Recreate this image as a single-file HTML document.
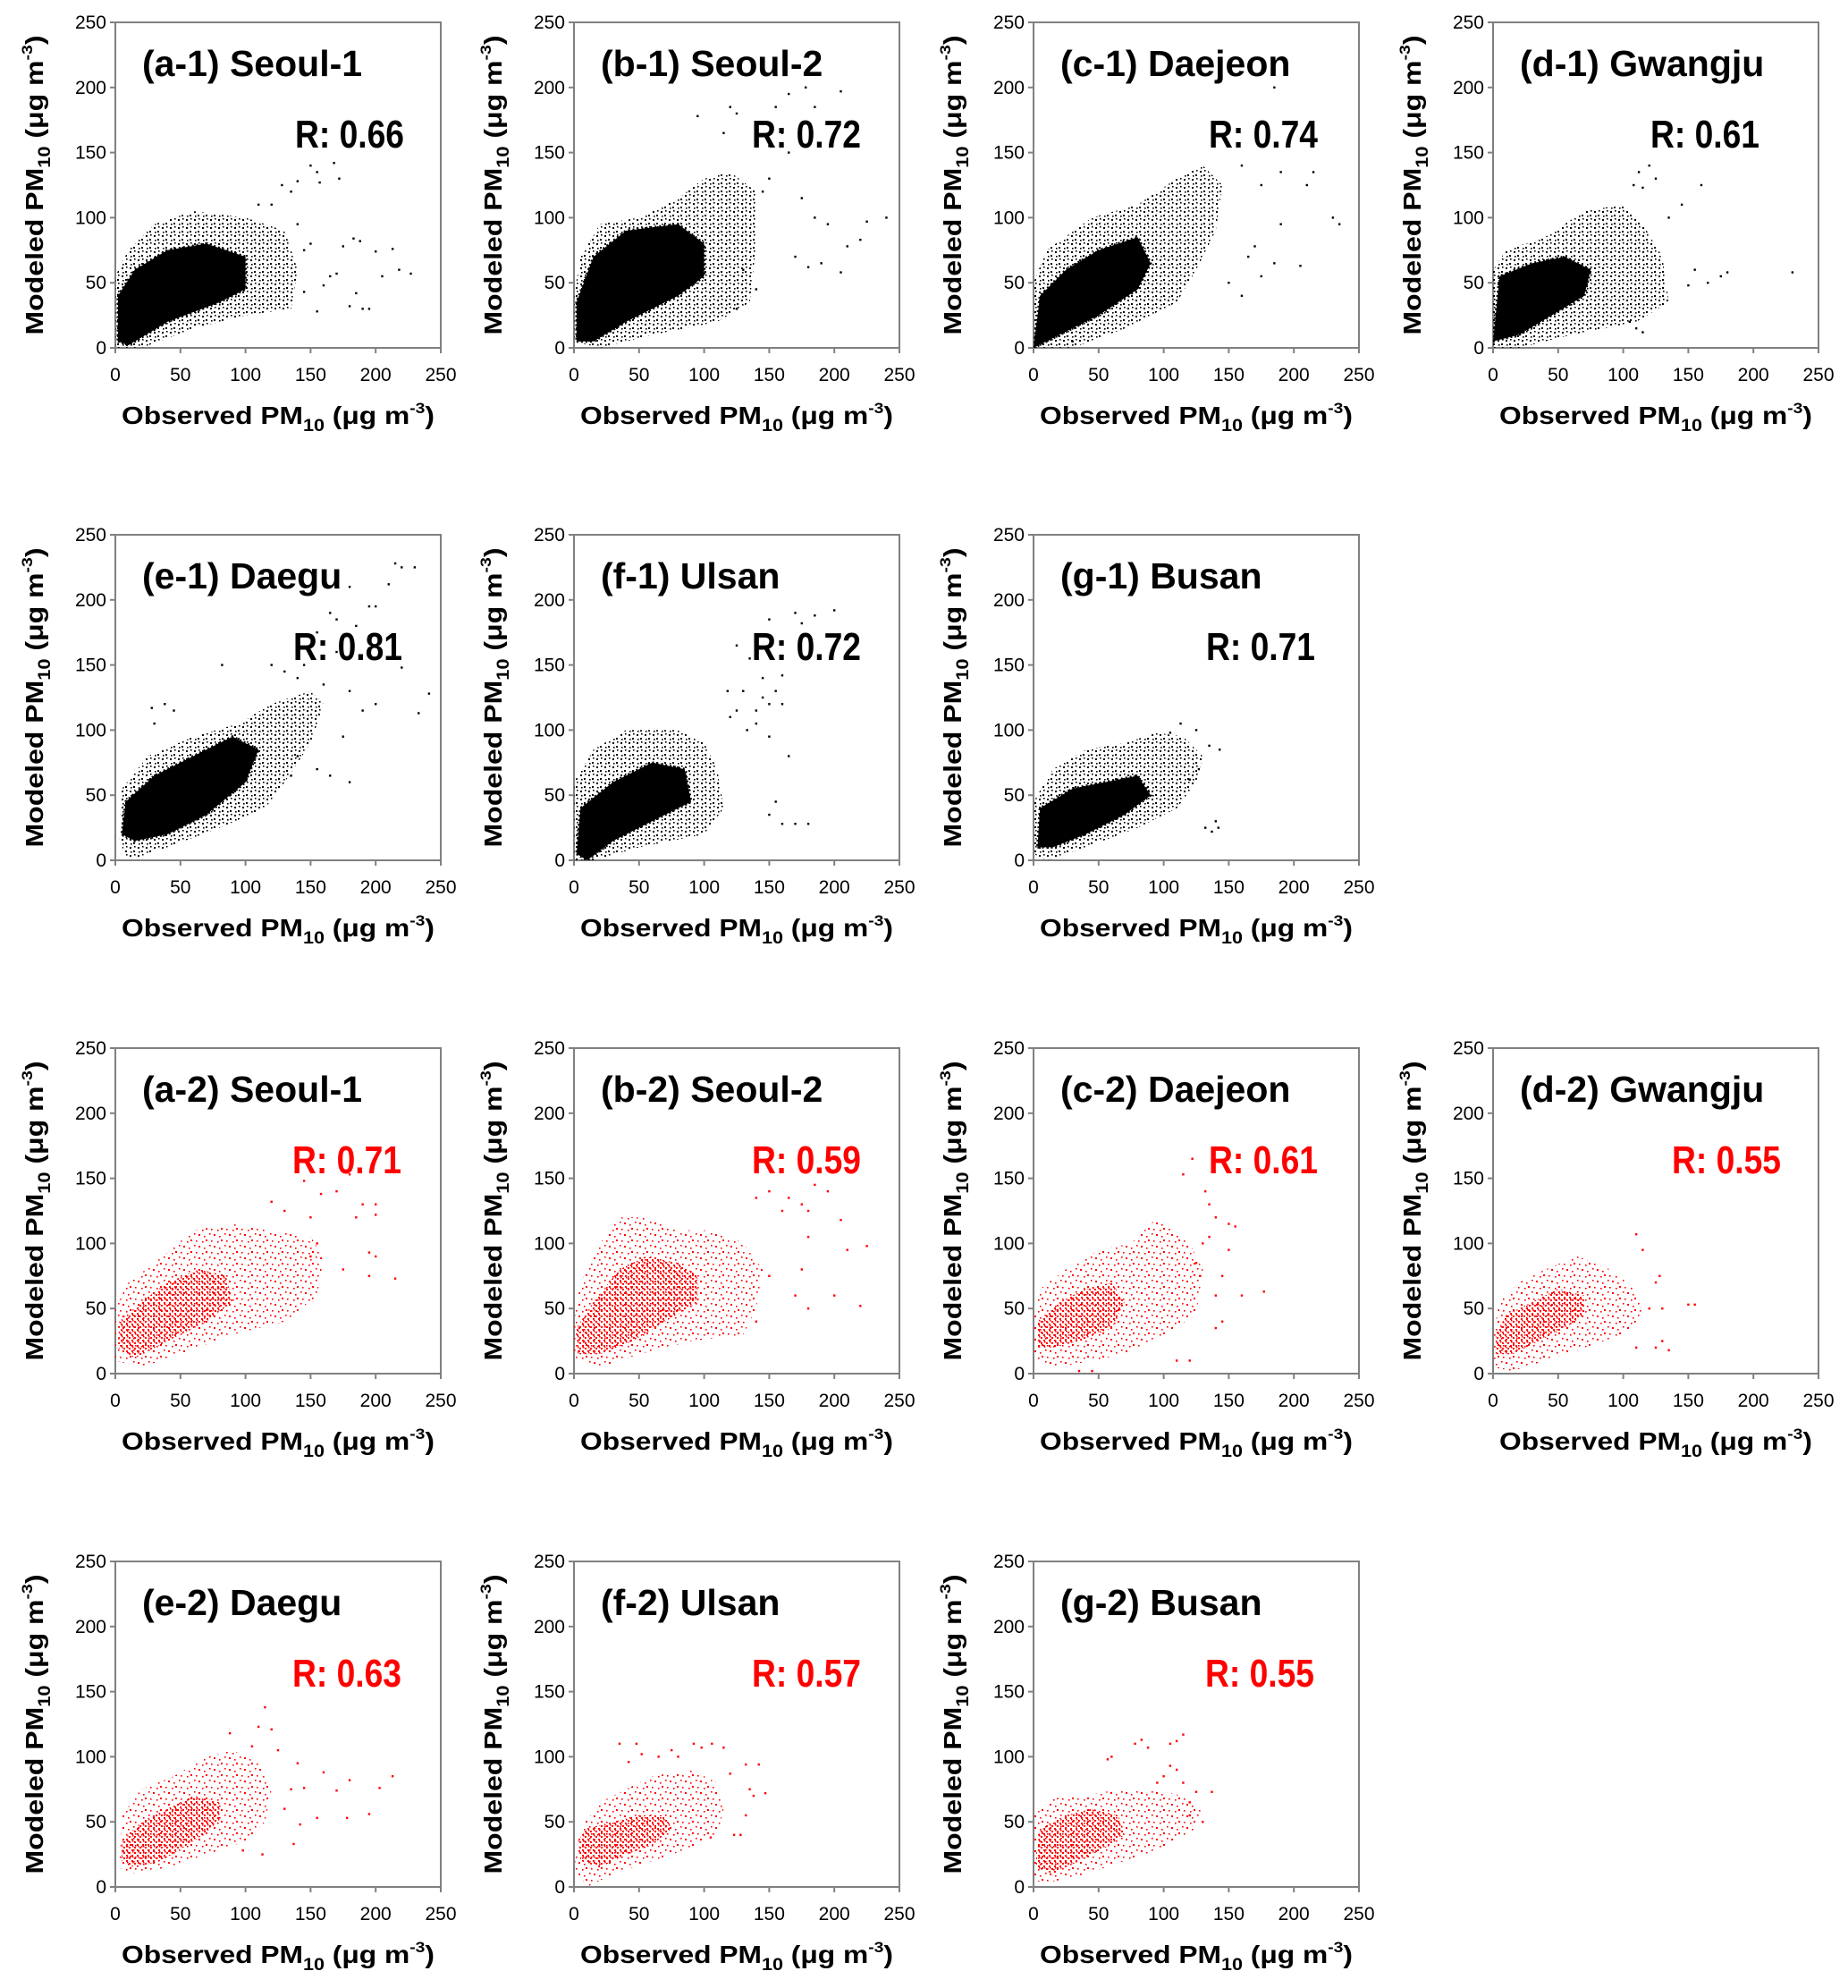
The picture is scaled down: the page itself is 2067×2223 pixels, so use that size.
<!DOCTYPE html>
<html><head><meta charset="utf-8"><title>PM10 scatter panels</title>
<style>
html,body{margin:0;padding:0;background:#fff;}
svg{display:block;}
text{font-family:"Liberation Sans",Arial,sans-serif;}
</style></head>
<body>
<svg id="fig" width="2067" height="2223" viewBox="0 0 2067 2223" xmlns="http://www.w3.org/2000/svg">
<defs>
<pattern id="blkSparse" width="9" height="9" patternUnits="userSpaceOnUse">
<rect x="1" y="2" width="2" height="2" fill="#000"/><rect x="5" y="6" width="2" height="2" fill="#000"/><rect x="6" y="1" width="1.6" height="1.6" fill="#000"/><rect x="2" y="7" width="1.6" height="1.6" fill="#000"/>
</pattern>
<pattern id="redDense" width="6" height="6" patternUnits="userSpaceOnUse">
<rect x="0" y="1" width="2" height="2" fill="#ff0000"/><rect x="3" y="4" width="2" height="2" fill="#ff0000"/><rect x="4" y="0" width="1.5" height="1.5" fill="#ff0000"/>
</pattern>
<pattern id="redSparse" width="17" height="13" patternUnits="userSpaceOnUse">
<rect x="1" y="2" width="2" height="2" fill="#ff0000"/><rect x="9" y="8" width="2" height="2" fill="#ff0000"/><rect x="13" y="1" width="1.6" height="1.6" fill="#ff0000"/><rect x="5" y="10" width="1.6" height="1.6" fill="#ff0000"/><rect x="7" y="4" width="1.6" height="1.6" fill="#ff0000"/><rect x="15" y="9" width="1.6" height="1.6" fill="#ff0000"/>
</pattern>
</defs>
</svg>
<script>
// ---- data ----
const panelIds = ["a-1","b-1","c-1","d-1","e-1","f-1","g-1","a-2","b-2","c-2","d-2","e-2","f-2","g-2"];
const panelTitles = ["(a-1) Seoul-1","(b-1) Seoul-2","(c-1) Daejeon","(d-1) Gwangju","(e-1) Daegu","(f-1) Ulsan","(g-1) Busan","(a-2) Seoul-1","(b-2) Seoul-2","(c-2) Daejeon","(d-2) Gwangju","(e-2) Daegu","(f-2) Ulsan","(g-2) Busan"];
const panelR = ["0.66","0.72","0.74","0.61","0.81","0.72","0.71","0.71","0.59","0.61","0.55","0.63","0.57","0.55"];
const tickValues = [0,50,100,150,200,250];
const tickLabels = ["0","50","100","150","200","250"];

const coreA1 = [[2,5],[10,2],[40,20],[80,35],[100,45],[100,70],[70,80],[40,75],[15,60],[2,40]];
const haloA1 = [[0,0],[20,0],[60,15],[100,25],[135,30],[140,60],[130,90],[100,100],[60,105],[30,95],[10,75],[0,55]];
const outA1 = [[150,140],[155,135],[168,142],[172,130],[157,127],[128,125],[140,128],[200,74],[213,76],[227,57],[218,60],[205,55],[183,84],[188,82],[190,30],[195,30],[180,32],[185,42],[165,55],[160,48],[155,28],[175,78],[150,80],[145,75],[170,57],[120,110],[110,110],[135,120],[140,95],[145,43]];

const coreB1 = [[2,5],[15,5],[40,20],[80,40],[100,55],[100,80],[80,95],[40,90],[15,70],[2,35]];
const haloB1 = [[0,5],[20,0],[60,10],[110,20],[135,35],[140,80],[140,120],[120,135],[100,130],[80,115],[50,100],[20,95],[5,70],[0,40]];
const outB1 = [[155,185],[165,195],[178,200],[185,185],[205,197],[120,185],[125,180],[95,178],[115,165],[150,155],[160,165],[165,150],[150,130],[145,120],[175,115],[185,100],[195,95],[225,97],[240,100],[210,78],[220,83],[180,62],[205,58],[190,65],[130,60],[140,45],[125,30],[170,70]];

const coreC1 = [[0,0],[20,10],[50,25],[80,45],[90,65],[80,85],[50,75],[25,60],[5,40]];
const haloC1 = [[0,0],[30,0],[70,15],[110,35],[125,60],[140,90],[145,125],[130,140],[110,130],[80,110],[45,100],[10,75],[0,50]];
const outC1 = [[160,140],[175,125],[190,135],[185,200],[215,135],[210,125],[230,100],[235,95],[205,63],[185,65],[190,95],[150,50],[175,55],[160,40],[30,5],[170,78],[165,70]];

const coreD1 = [[0,5],[20,10],[45,25],[70,40],[75,60],[55,70],[30,65],[5,55]];
const haloD1 = [[0,0],[20,0],[60,10],[110,20],[135,35],[130,70],[115,95],[100,110],[70,105],[40,85],[10,75],[0,60]];
const outD1 = [[108,125],[115,123],[120,140],[112,135],[125,130],[160,125],[145,110],[135,100],[155,60],[165,50],[180,58],[175,55],[230,58],[110,15],[115,12],[105,20],[150,48]];

const coreE1 = [[5,20],[15,15],[40,20],[70,35],[100,60],[110,85],[90,95],[60,80],[30,65],[8,45]];
const haloE1 = [[3,15],[10,0],[40,10],[80,25],[115,40],[130,60],[150,90],[160,120],[150,130],[120,120],[95,105],[60,95],[25,80],[5,55]];
const outE1 = [[215,228],[220,225],[230,225],[180,210],[210,212],[195,195],[200,195],[165,190],[170,185],[185,180],[155,175],[170,160],[145,150],[120,150],[82,150],[130,145],[140,140],[180,130],[160,135],[190,115],[200,120],[233,113],[241,128],[220,148],[180,60],[165,65],[155,70],[175,95],[140,80],[135,65],[28,117],[38,120],[45,115],[30,105]];

const coreF1 = [[2,5],[10,0],[30,15],[60,30],[90,45],[85,70],[60,75],[30,60],[5,40]];
const haloF1 = [[0,0],[15,0],[50,10],[100,20],[115,40],[110,70],[100,90],[80,100],[40,100],[15,85],[0,60]];
const outF1 = [[125,165],[135,155],[150,185],[145,140],[160,142],[155,130],[145,125],[130,130],[150,120],[170,190],[185,188],[200,192],[175,182],[125,115],[120,110],[140,105],[150,95],[160,120],[165,80],[155,45],[150,35],[160,28],[170,28],[180,28],[118,130],[133,100],[140,115]];

const coreG1 = [[3,10],[15,10],[40,20],[70,35],[90,50],[80,65],[55,60],[30,55],[5,40]];
const haloG1 = [[0,5],[10,0],[40,10],[80,25],[110,40],[125,60],[130,80],[115,95],[95,98],[70,90],[40,85],[15,70],[0,45]];
const outG1 = [[113,105],[125,100],[135,88],[143,85],[140,30],[132,25],[137,22],[142,25],[120,62],[127,70],[105,98]];

const coreA2 = [[2,20],[15,12],[40,25],[70,40],[90,55],[85,75],[65,80],[40,70],[20,55],[3,40]];
const haloA2 = [[0,10],[20,5],[50,15],[90,30],[130,40],[155,60],[160,90],[150,105],[120,110],[90,115],[60,110],[30,85],[10,70],[0,50]];
const outA2 = [[145,148],[180,153],[170,140],[158,138],[120,132],[190,130],[200,130],[185,120],[200,122],[195,93],[200,90],[215,73],[195,75],[175,80],[150,90],[155,100],[130,125],[150,120]];

const coreB2 = [[3,15],[20,15],[45,25],[70,40],[95,55],[95,75],[80,85],[55,90],[35,80],[15,55],[2,35]];
const haloB2 = [[0,10],[20,5],[50,15],[90,25],[130,30],[140,50],[145,80],[130,100],[110,110],[80,110],[55,120],[35,120],[20,100],[5,70],[0,40]];
const outB2 = [[185,145],[195,140],[175,130],[165,135],[160,125],[150,140],[140,135],[180,125],[205,118],[210,95],[225,98],[180,105],[175,80],[200,60],[220,52],[180,50],[170,60],[150,75],[140,40]];

const coreC2 = [[3,20],[15,20],[35,25],[60,35],[70,55],[60,70],[40,65],[20,55],[3,40]];
const haloC2 = [[0,10],[20,5],[45,10],[70,15],[100,30],[125,45],[130,80],[120,100],[95,120],[75,100],[50,95],[25,80],[5,65],[0,40]];
const outC2 = [[115,153],[122,165],[132,140],[135,130],[140,120],[130,100],[135,105],[150,115],[155,113],[150,95],[125,85],[145,75],[140,60],[160,60],[177,63],[128,75],[110,10],[120,10],[145,40],[140,35],[45,2],[35,2]];

const coreD2 = [[2,15],[15,15],[35,25],[55,35],[70,45],[70,60],[50,65],[30,55],[10,45],[2,30]];
const haloD2 = [[0,5],[15,2],[40,10],[70,20],[100,30],[115,45],[110,65],[90,80],[65,90],[40,80],[20,70],[5,55],[0,30]];
const outD2 = [[110,107],[115,95],[125,70],[128,75],[120,50],[130,50],[150,53],[155,53],[110,20],[125,20],[130,25],[135,18]];

const coreE2 = [[5,20],[15,15],[35,20],[60,35],[80,50],[80,65],[60,70],[40,60],[20,50],[5,35]];
const haloE2 = [[3,15],[10,10],[40,15],[70,25],[100,35],[115,50],[120,75],[110,95],[90,105],[70,100],[45,85],[20,75],[5,55]];
const outE2 = [[115,138],[110,123],[120,121],[125,105],[105,108],[88,118],[160,88],[180,82],[203,76],[213,85],[195,56],[178,53],[155,53],[170,74],[145,76],[140,95],[137,33],[113,25],[98,28],[130,60],[135,75],[142,48]];

const coreF2 = [[5,20],[20,15],[40,25],[60,32],[75,45],[70,55],[50,55],[30,50],[10,45],[3,35]];
const haloF2 = [[0,15],[10,0],[30,10],[60,20],[90,30],[110,40],[115,60],[110,80],[90,90],[60,85],[40,75],[20,65],[5,45]];
const outF2 = [[35,110],[48,110],[52,102],[42,96],[92,110],[98,107],[106,110],[115,107],[120,87],[132,94],[142,94],[135,75],[147,72],[138,70],[128,40],[123,40],[105,38],[132,55],[65,100],[75,105],[80,100]];

const coreG2 = [[2,15],[15,10],[35,20],[55,30],[70,40],[65,55],[45,60],[25,55],[5,45],[2,25]];
const haloG2 = [[0,5],[10,3],[40,10],[70,20],[100,30],[125,45],[130,60],[115,70],[90,75],[65,75],[40,70],[15,68],[0,55]];
const outG2 = [[115,117],[110,112],[105,110],[83,113],[78,110],[88,107],[60,100],[57,98],[105,93],[110,90],[115,80],[125,73],[137,73],[130,50],[120,55],[100,85],[95,80],[120,65]];

const coreSets = [coreA1,coreB1,coreC1,coreD1,coreE1,coreF1,coreG1,coreA2,coreB2,coreC2,coreD2,coreE2,coreF2,coreG2];
const haloSets = [haloA1,haloB1,haloC1,haloD1,haloE1,haloF1,haloG1,haloA2,haloB2,haloC2,haloD2,haloE2,haloF2,haloG2];
const outSets = [outA1,outB1,outC1,outD1,outE1,outF1,outG1,outA2,outB2,outC2,outD2,outE2,outF2,outG2];

// ---- layout ----
const NS = "http://www.w3.org/2000/svg";
const svg = document.getElementById("fig");
const colLeft = [129,642,1156,1670];
const rowTop = [25,598,1172,1746];
const panelCol = [0,1,2,3,0,1,2,0,1,2,3,0,1,2];
const panelRow = [0,0,0,0,1,1,1,2,2,2,2,3,3,3];
const rRight = [323,321,318,298,321,321,315,320,321,318,322,320,321,314];
const W = 364, H = 364, MAXV = 250;

function el(tag, attrs, parent) {
  const e = document.createElementNS(NS, tag);
  for (const k in attrs) e.setAttribute(k, attrs[k]);
  parent.appendChild(e);
  return e;
}

panelIds.forEach((id, i) => {
  const L = colLeft[panelCol[i]], T = rowTop[panelRow[i]], B = T + H;
  const red = i >= 7;
  const color = red ? "#ff0000" : "#000000";
  const sx = v => L + v / MAXV * W;
  const sy = v => B - v / MAXV * H;

  const g = el("g", {}, svg);
  
  

  const frame = el("rect", {x:L, y:T, width:W, height:H, fill:"none", stroke:"#808080", "stroke-width":2}, g);
  
  

  const clip = "cl" + i;
  const cp = el("clipPath", {id:clip}, g);
  el("rect", {x:L, y:T, width:W, height:H}, cp);
  const marks = el("g", {"clip-path":"url(#" + clip + ")"}, g);
  
  
  const toPts = arr => arr.map(p => sx(p[0]).toFixed(1) + "," + sy(p[1]).toFixed(1)).join(" ");
  const halo = el("polygon", {points: toPts(haloSets[i]), fill: red ? "url(#redSparse)" : "url(#blkSparse)"}, marks);
  
  
  const core = el("polygon", {points: toPts(coreSets[i]), fill: red ? "url(#redDense)" : "#000", "stroke": red ? "none" : "#000", "stroke-width": red ? 0 : 3, "stroke-dasharray": red ? "" : "2 3"}, marks);
  
  
  outSets[i].forEach(p => {
    const d = el("rect", {x: sx(p[0]) - 1.2, y: sy(p[1]) - 1.2, width: 2.4, height: 2.4, fill: color}, marks);
    
    
  });

  tickValues.forEach((v, k) => {
    el("line", {x1:L-6, x2:L, y1:sy(v), y2:sy(v), stroke:"#808080", "stroke-width":2}, g);
    el("line", {x1:sx(v), x2:sx(v), y1:B, y2:B+6, stroke:"#808080", "stroke-width":2}, g);
    const yl = el("text", {x:L-10, y:sy(v)+7, "text-anchor":"end", "font-size":21, fill:"#000"}, g);
    yl.textContent = tickLabels[k];
    
    
    const xl = el("text", {x:sx(v), y:B+37, "text-anchor":"middle", "font-size":21, fill:"#000"}, g);
    xl.textContent = tickLabels[k];
    
    
  });

  const xt = el("text", {x:L + W/2, y:B + 85, "text-anchor":"middle", "font-size":28, "font-weight":"bold", textLength:350, lengthAdjust:"spacingAndGlyphs"}, g);
  xt.innerHTML = 'Observed PM<tspan font-size="19" dy="8">10</tspan><tspan dy="-8"> (μg m</tspan><tspan font-size="17" dy="-12">-3</tspan><tspan dy="12">)</tspan>';
  
  

  const cy = T + 182, bx = L - 81;
  const yt = el("text", {x:bx, y:cy, transform:"rotate(-90 " + bx + " " + cy + ")", "text-anchor":"middle", "font-size":28, "font-weight":"bold", textLength:335, lengthAdjust:"spacingAndGlyphs"}, g);
  yt.innerHTML = 'Modeled PM<tspan font-size="19" dy="8">10</tspan><tspan dy="-8"> (μg m</tspan><tspan font-size="17" dy="-12">-3</tspan><tspan dy="12">)</tspan>';
  
  

  const tt = el("text", {x:L + 30, y:T + 60, "font-size":41, "font-weight":"bold", fill:"#000"}, g);
  tt.textContent = panelTitles[i];
  
  

  const rt = el("text", {x:L + rRight[i], y:T + 140, "text-anchor":"end", "font-size":44, "font-weight":"bold", fill:color, "font-family":"'Liberation Sans Narrow','Liberation Sans',sans-serif", textLength:122, lengthAdjust:"spacingAndGlyphs"}, g);
  rt.textContent = "R: " + panelR[i];
  
  
});
</script>
</body></html>
